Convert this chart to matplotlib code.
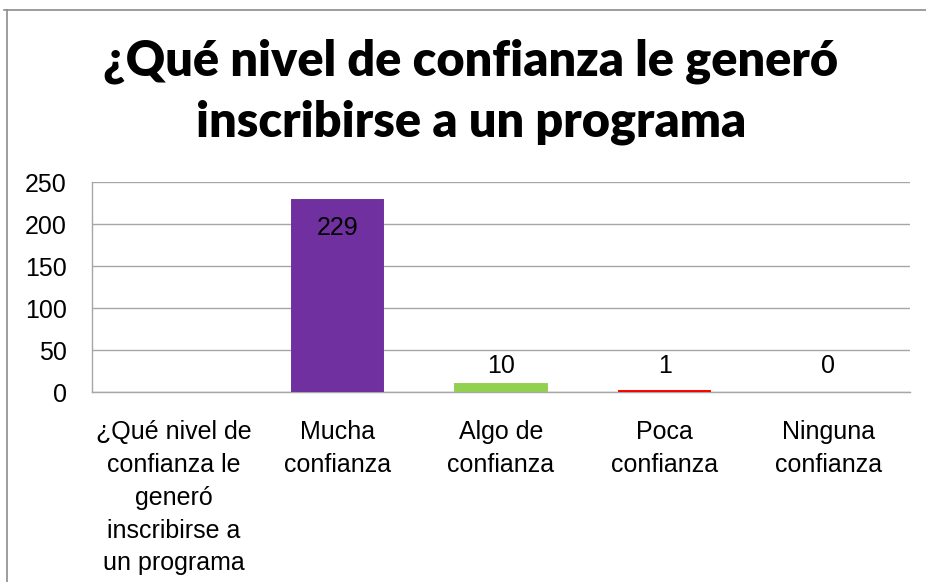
import matplotlib
matplotlib.use("Agg")
import matplotlib.pyplot as plt
from matplotlib.lines import Line2D

title = "¿Qué nivel de confianza le generó\ninscribirse a un programa"
categories = [
    "¿Qué nivel de\nconfianza le\ngeneró\ninscribirse a\nun programa",
    "Mucha\nconfianza",
    "Algo de\nconfianza",
    "Poca\nconfianza",
    "Ninguna\nconfianza",
]
values = [None, 229, 10, 1, 0]
colors = ["#FFFFFF", "#7030A0", "#92D050", "#FF0000", "#A6A6A6"]
yticks = [0, 50, 100, 150, 200, 250]

W, H = 926, 582
fig = plt.figure(figsize=(W / 100, H / 100), dpi=100)
fig.patch.set_facecolor("white")

# outer frame (top and left visible)
fig.add_artist(Line2D([4 / W, 1.0], [1 - 10 / H, 1 - 10 / H], transform=fig.transFigure,
                      color="#8c8c8c", lw=1.2))
fig.add_artist(Line2D([7 / W, 7 / W], [0, 1 - 10 / H], transform=fig.transFigure,
                      color="#8c8c8c", lw=1.2))

left, right, top, bottom = 92, 910, 182, 392
ax = fig.add_axes([left / W, 1 - bottom / H, (right - left) / W, (bottom - top) / H])

FS = 18
x = list(range(len(categories)))
for i, v in enumerate(values):
    if v is None:
        continue
    ax.bar(i, v, width=0.56, color=colors[i], edgecolor=colors[i] if v > 0 else "none",
           lw=1.4, zorder=3)
    if v > 100:
        ax.text(i, v - 34, f"{v}", ha="center", va="center", fontsize=FS,
                family="Liberation Sans", color="black", zorder=4)
    else:
        ax.text(i, max(v, 10) + 21, f"{v}", ha="center", va="center", fontsize=FS,
                family="Liberation Sans", color="black", zorder=4)

ax.set_xlim(-0.5, len(categories) - 0.5)
ax.set_ylim(0, 250)
ax.set_yticks(yticks)
ax.set_yticklabels([str(t) for t in yticks], fontsize=FS, family="Liberation Sans")
ax.set_xticks(x)
ax.set_xticklabels(categories, fontsize=FS, family="Liberation Sans", linespacing=1.47)
ax.tick_params(axis="both", length=0, colors="black")
ax.tick_params(axis="y", pad=18)
ax.tick_params(axis="x", pad=20)
ax.yaxis.grid(True, color="#a6a6a6", lw=1.0, zorder=0)
ax.set_axisbelow(True)
for s in ["top", "right"]:
    ax.spines[s].set_visible(False)
ax.spines["left"].set_color("#a6a6a6")
ax.spines["bottom"].set_color("#a6a6a6")
ax.spines["left"].set_linewidth(1.0)
ax.spines["bottom"].set_linewidth(1.0)
ax.spines["bottom"].set_zorder(2)

fig.text(471 / W, 1 - 92 / H, title, ha="center", va="center", fontsize=35,
         fontweight="heavy", family="Lato", linespacing=1.42)

fig.savefig("out.png", dpi=100, facecolor="white")
